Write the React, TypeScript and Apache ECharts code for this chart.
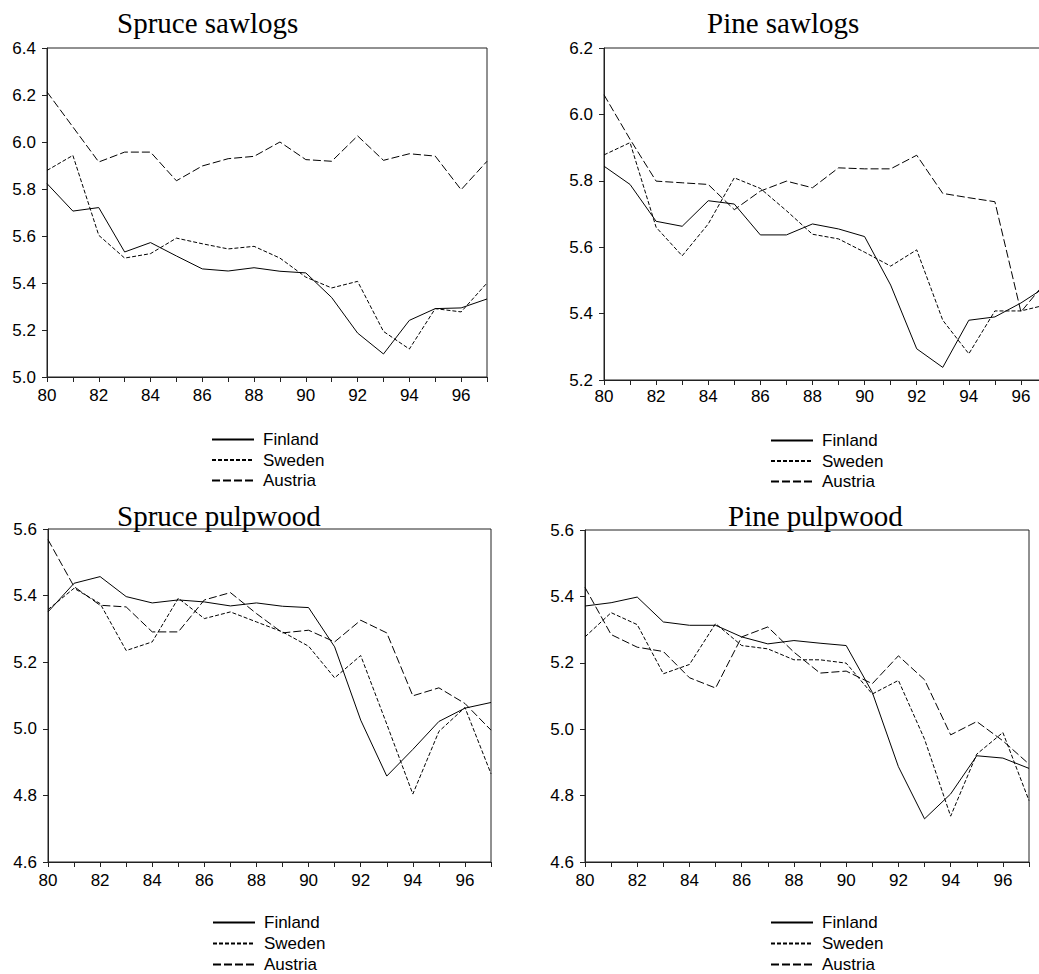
import React, { useEffect, useRef } from "react";
import * as echarts from "echarts";

const years = ["80","81","82","83","84","85","86","87","88","89","90","91","92","93","94","95","96","97"];
const seriesNames = ["Finland", "Sweden", "Austria"];
const panelTitles = ["Spruce sawlogs", "Pine sawlogs", "Spruce pulpwood", "Pine pulpwood"];

// Spruce sawlogs
const spruceSawFinland = [5.823,5.706,5.721,5.532,5.572,5.515,5.460,5.451,5.465,5.450,5.443,5.338,5.187,5.098,5.241,5.291,5.294,5.332];
const spruceSawSweden = [5.879,5.943,5.603,5.506,5.525,5.591,5.567,5.545,5.556,5.506,5.425,5.379,5.407,5.194,5.119,5.291,5.277,5.400];
const spruceSawAustria = [6.213,6.064,5.915,5.957,5.957,5.835,5.898,5.929,5.939,6.000,5.925,5.918,6.026,5.922,5.950,5.940,5.797,5.918];

// Pine sawlogs
const pineSawFinland = [5.844,5.789,5.678,5.663,5.740,5.730,5.637,5.637,5.670,5.655,5.632,5.486,5.294,5.238,5.380,5.390,5.432,5.483];
const pineSawSweden = [5.878,5.915,5.660,5.574,5.670,5.809,5.777,5.710,5.639,5.625,5.585,5.543,5.592,5.380,5.279,5.408,5.408,5.427];
const pineSawAustria = [6.059,5.925,5.799,5.794,5.789,5.713,5.769,5.799,5.779,5.839,5.836,5.836,5.877,5.762,5.749,5.737,5.405,5.500];

// Spruce pulpwood
const sprucePulpFinland = [5.351,5.437,5.457,5.397,5.378,5.387,5.381,5.369,5.378,5.368,5.364,5.246,5.026,4.858,4.938,5.022,5.062,5.079];
const sprucePulpSweden = [5.358,5.422,5.376,5.235,5.261,5.392,5.331,5.351,5.321,5.291,5.248,5.153,5.220,5.014,4.804,4.992,5.064,4.865];
const sprucePulpAustria = [5.568,5.427,5.371,5.366,5.291,5.291,5.387,5.409,5.346,5.288,5.296,5.261,5.326,5.288,5.099,5.123,5.076,4.996];

// Pine pulpwood
const pinePulpFinland = [5.371,5.381,5.398,5.323,5.313,5.313,5.278,5.257,5.267,5.259,5.252,5.111,4.887,4.730,4.805,4.920,4.913,4.882];
const pinePulpSweden = [5.278,5.351,5.315,5.167,5.195,5.318,5.252,5.242,5.209,5.209,5.199,5.106,5.147,4.970,4.738,4.925,4.990,4.785];
const pinePulpAustria = [5.427,5.285,5.247,5.234,5.155,5.124,5.278,5.308,5.232,5.169,5.175,5.137,5.221,5.149,4.983,5.023,4.965,4.895];

const yMins = [5.0, 5.2, 4.6, 4.6];
const yMaxs = [6.4, 6.2, 5.6, 5.6];
const yInterval = 0.2;

const panelData = [
  [spruceSawFinland, spruceSawSweden, spruceSawAustria],
  [pineSawFinland, pineSawSweden, pineSawAustria],
  [sprucePulpFinland, sprucePulpSweden, sprucePulpAustria],
  [pinePulpFinland, pinePulpSweden, pinePulpAustria],
];

const SANS = "Liberation Sans, Arial, sans-serif";
const SERIF = "Liberation Serif, Times New Roman, serif";
const LINE_TYPES: any[] = ["solid", [4, 2], [8, 3]];

// layout (pixels); the Pine sawlogs panel runs past the right edge of the page
const grids: any[] = [
  { left: 47, top: 48, width: 440, height: 329 },
  { left: 604, top: 48, width: 443, height: 332 },
  { left: 48, top: 529, width: 443, height: 333 },
  { left: 585, top: 530, width: 444, height: 332 },
];
const titlePos = [
  { left: 117, top: 8 },
  { left: 707, top: 8 },
  { left: 117, top: 501 },
  { left: 728, top: 501 },
];
const legendPos = [
  { left: 211, top: 431, gap: 3.5 },
  { left: 770, top: 432, gap: 3.5 },
  { left: 212, top: 914, gap: 4 },
  { left: 770, top: 914, gap: 4 },
];
const xLabelMargin = [10, 8, 10, 10];

export default function App() {
  const ref = useRef<HTMLDivElement>(null);
  useEffect(() => {
    if (!ref.current) return;
    const chart = echarts.init(ref.current, null, { renderer: "svg" });
    const axisColor = "#222";
    const option: any = {
      animation: false,
      backgroundColor: "#fff",
      title: panelTitles.map((t, i) => ({
        text: t,
        left: titlePos[i].left,
        top: titlePos[i].top,
        padding: 0,
        textStyle: { fontFamily: SERIF, fontSize: 29, fontWeight: "normal", color: "#000", lineHeight: 29 },
      })),
      legend: legendPos.map((p) => ({
        data: seriesNames,
        orient: "vertical",
        left: p.left,
        top: p.top,
        padding: 0,
        itemGap: p.gap,
        itemWidth: 42,
        itemHeight: 10,
        selectedMode: false,
        itemStyle: { opacity: 0 },
        textStyle: { fontFamily: SANS, fontSize: 17, color: "#000", lineHeight: 17, padding: [0, 0, 0, 4] },
      })),
      grid: grids.map((g) => ({
        ...g,
        show: true,
        borderColor: axisColor,
        borderWidth: 1,
        containLabel: false,
        outerBoundsMode: "none",
      })),
      xAxis: grids.map((_, i) => ({
        type: "category",
        gridIndex: i,
        data: years,
        boundaryGap: false,
        axisLine: { show: true, lineStyle: { color: axisColor, width: 1 } },
        axisTick: { show: true, interval: 0, length: 5, lineStyle: { color: axisColor } },
        axisLabel: { interval: 1, margin: xLabelMargin[i], fontFamily: SANS, fontSize: 17, color: "#000" },
        splitLine: { show: false },
      })),
      yAxis: grids.map((_, i) => ({
        type: "value",
        gridIndex: i,
        min: yMins[i],
        max: yMaxs[i],
        interval: yInterval,
        axisLine: { show: true, lineStyle: { color: axisColor, width: 1 } },
        axisTick: { show: true, length: 5, lineStyle: { color: axisColor } },
        axisLabel: {
          margin: 11,
          fontFamily: SANS,
          fontSize: 17,
          color: "#000",
          formatter: (v: number) => v.toFixed(1),
        },
        splitLine: { show: false },
      })),
      series: panelData.flatMap((arr, pi) =>
        arr.map((vals, si) => ({
          name: seriesNames[si],
          type: "line",
          xAxisIndex: pi,
          yAxisIndex: pi,
          data: vals,
          symbol: "none",
          showSymbol: false,
          silent: true,
          lineStyle: { color: "#000", width: 1, type: LINE_TYPES[si] },
          itemStyle: { color: "#000" },
        }))
      ),
    };
    chart.setOption(option);
    return () => chart.dispose();
  }, []);
  return (
    <div
      ref={ref}
      style={{ position: "absolute", left: 0, top: 0, width: 1039, height: 974, overflow: "hidden" }}
    />
  );
}
